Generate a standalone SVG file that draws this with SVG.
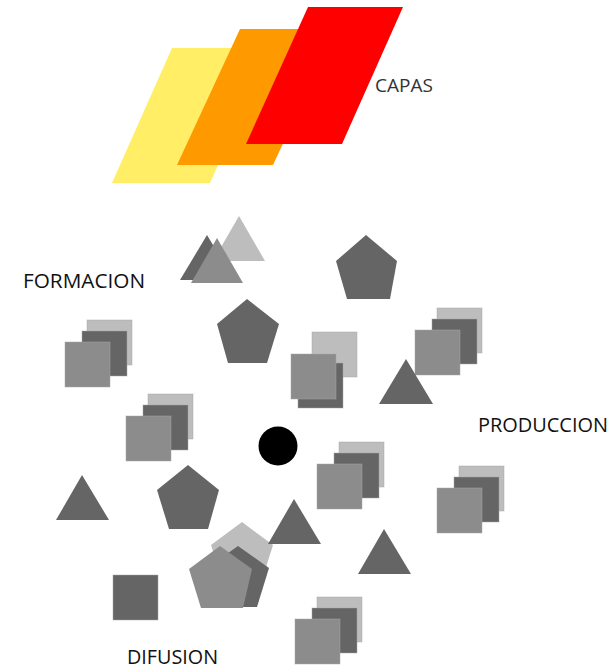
<svg xmlns="http://www.w3.org/2000/svg" width="615" height="669" viewBox="0 0 615 669">
<style>
.d{fill:#656565}
.m{fill:#8c8c8c}
.l{fill:#bdbdbd}
.sq{stroke:#a8a8a8;stroke-width:0.8;stroke-opacity:0.6}
.lbl{font-family:"Open Sans","Liberation Sans",sans-serif;font-size:20px;fill:#111}
</style>
<defs>
<rect id="s" width="45" height="45"/>
<g id="stack">
<use href="#s" x="22" y="-22" class="l sq"/>
<use href="#s" x="17" y="-11" class="d sq"/>
<use href="#s" x="0" y="0" class="m sq"/>
</g>
</defs>
<rect width="615" height="669" fill="#fff"/>

<g id="capas">
<polygon points="172,48 270,48 210,183 112,183" fill="#ffee66"/>
<polygon points="240,29 336,29 273,165 177,165" fill="#ff9900"/>
<polygon points="308,7 403,7 342,144 246,144" fill="#ff0000"/>
<text x="375" y="92" font-family="'Open Sans','Liberation Sans',sans-serif" font-size="19" fill="#333">CAPAS</text>
</g>

<g id="labels">
<text class="lbl" x="23" y="288" textLength="122" lengthAdjust="spacingAndGlyphs">FORMACION</text>
<text class="lbl" x="478" y="432" textLength="130" lengthAdjust="spacingAndGlyphs">PRODUCCION</text>
<text class="lbl" x="127" y="664" textLength="91" lengthAdjust="spacingAndGlyphs">DIFUSION</text>
</g>

<g id="tri-group">
<polygon class="l" points="239,216 265,261 213,261"/>
<polygon class="d" points="207,235 234,280 180,280"/>
<polygon class="m" points="217,238 243,283 191,283"/>
</g>
<g id="pent1"><polygon class="d" points="366,235 397,261 390,299 347,299 336,261"/></g>
<g id="pent2"><polygon class="d" points="247,299 279,324 267,363 228,363 217,324"/></g>
<g id="pent3"><polygon class="d" points="188,465 219,490 208,529 169,529 157,490"/></g>
<g id="pent-group">
<polygon class="l" points="242,522 273,545 261,583 223,583 211,545"/>
<polygon class="d" points="238,546 269,568 257,607 219,607 207,568"/>
<polygon class="m" points="220,546 252,569 243,608 201,608 189,569"/>
</g>

<g id="stackA"><use href="#stack" x="65" y="342"/></g>
<g id="stackB"><use href="#stack" x="126" y="416"/></g>
<g id="stackC"><use href="#stack" x="415" y="330"/></g>
<g id="stackD"><use href="#stack" x="317" y="464"/></g>
<g id="stackE"><use href="#stack" x="437" y="488"/></g>
<g id="stackF"><use href="#stack" x="295" y="619"/></g>
<g id="stackG">
<use href="#s" x="312" y="332" class="l sq"/>
<use href="#s" x="298" y="363" class="d sq"/>
<use href="#s" x="291" y="354" class="m sq"/>
</g>
<g id="square1"><use href="#s" x="113" y="575" class="d sq"/></g>

<g id="tri2"><polygon class="d" points="406,359 433,404 379,404"/></g>
<g id="tri3"><polygon class="d" points="82,475 109,520 56,520"/></g>
<g id="tri4"><polygon class="d" points="294,499 321,544 268,544"/></g>
<g id="tri5"><polygon class="d" points="384,529 411,574 358,574"/></g>

<g id="center"><circle cx="278" cy="446" r="19.5" fill="#000"/></g>
<g id="connectors"/>
</svg>
